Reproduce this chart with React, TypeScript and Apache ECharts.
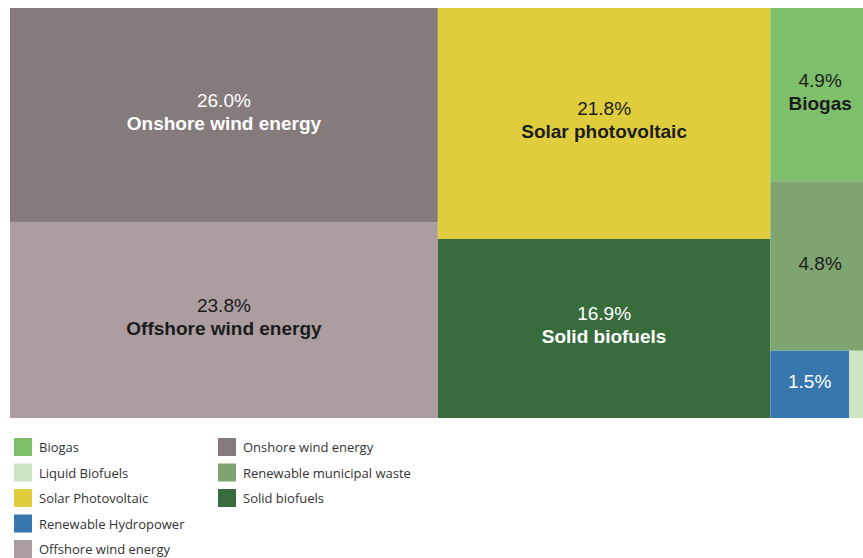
import React, { useEffect, useRef } from "react";
import * as echarts from "echarts";

// Treemap data
const categories = [
  "Onshore wind energy",
  "Offshore wind energy",
  "Solar photovoltaic",
  "Solid biofuels",
  "Biogas",
  "Renewable municipal waste",
  "Renewable Hydropower",
  "Liquid Biofuels",
];
const shares = [26.0, 23.8, 21.8, 16.9, 4.9, 4.8, 1.5, 0.4];
const cellColors = [
  "#857a7c",
  "#ab9da0",
  "#dfcd3e",
  "#386c3c",
  "#7dbf6a",
  "#7ea470",
  "#3777ae",
  "#cde4c3",
];
const labelColors = ["#ffffff", "#1c1c1c", "#1c1c1c", "#ffffff", "#1c1c1c", "#1c1c1c", "#ffffff", "#1c1c1c"];
const showName = [true, true, true, true, true, false, false, false];
const showLabel = [true, true, true, true, true, true, true, false];

// Legend
const legendNames = [
  "Biogas",
  "Liquid Biofuels",
  "Solar Photovoltaic",
  "Renewable Hydropower",
  "Offshore wind energy",
  "Onshore wind energy",
  "Renewable municipal waste",
  "Solid biofuels",
];
const legendColors = [
  "#7dbf6a",
  "#cde4c3",
  "#dfcd3e",
  "#3777ae",
  "#ab9da0",
  "#857a7c",
  "#7ea470",
  "#386c3c",
];

const LINE_H = 23;

export default function App() {
  const ref = useRef<HTMLDivElement>(null);

  useEffect(() => {
    document.body.style.margin = "0";
    if (!ref.current) return;
    const chart = echarts.init(ref.current, undefined, { renderer: "svg" });

    const data = categories.map((name, i) => {
      const lines = showName[i] ? 2 : 1;
      return {
        name,
        value: shares[i],
        itemStyle: { color: cellColors[i] },
        label: {
          show: showLabel[i],
          color: labelColors[i],
          offset: [0, -(lines * LINE_H) / 2 - 8],
          formatter: showName[i]
            ? `{p|${shares[i].toFixed(1)}%}\n{n|${name}}`
            : `{p|${shares[i].toFixed(1)}%}`,
        },
      };
    });

    const legendGraphics: any[] = [];
    legendNames.forEach((name, i) => {
      const col = i < 5 ? 0 : 1;
      const row = i < 5 ? i : i - 5;
      const x0 = col === 0 ? 14 : 218;
      const cy = 447 + row * 25.5;
      legendGraphics.push({
        type: "rect",
        shape: { x: x0, y: cy - 9, width: 18, height: 18 },
        style: { fill: legendColors[i] },
        silent: true,
      });
      legendGraphics.push({
        type: "text",
        x: x0 + 25,
        y: cy,
        style: {
          text: name,
          fill: "#333333",
          font: '13px "Open Sans", sans-serif',
          verticalAlign: "middle",
          align: "left",
        },
        silent: true,
      });
    });

    chart.setOption({
      animation: false,
      series: [
        {
          type: "treemap",
          left: 10,
          top: 8,
          width: 860,
          height: 410,
          roam: false,
          nodeClick: false,
          silent: true,
          sort: "desc",
          breadcrumb: { show: false },
          itemStyle: { borderWidth: 0, gapWidth: 0 },
          label: {
            show: true,
            position: ["50%", "50%"],
            align: "center",
            verticalAlign: "top",
            fontFamily: "Liberation Sans, Arial, sans-serif",
            rich: {
              p: { fontSize: 19, fontWeight: "normal", lineHeight: LINE_H, fontFamily: "Liberation Sans" },
              n: { fontSize: 19, fontWeight: "bold", lineHeight: LINE_H, fontFamily: "Liberation Sans" },
            },
          },
          upperLabel: { show: false },
          data,
        },
      ],
      graphic: legendGraphics,
    });

    return () => chart.dispose();
  }, []);

  return <div ref={ref} style={{ width: 863, height: 558 }} />;
}
